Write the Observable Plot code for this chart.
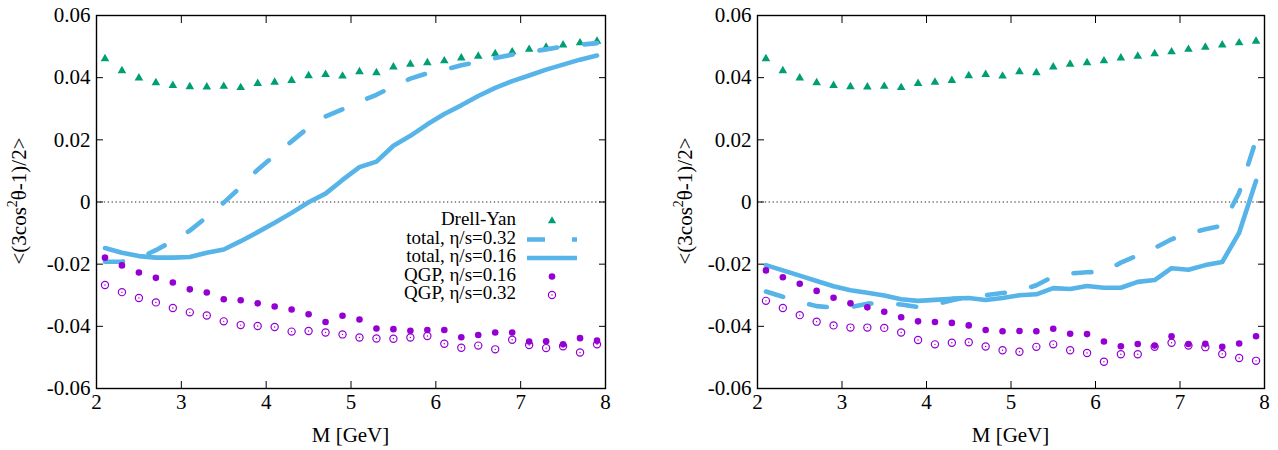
<!DOCTYPE html>
<html><head><meta charset="utf-8">
<script src="https://cdn.jsdelivr.net/npm/d3@7"></script>
<script src="https://cdn.jsdelivr.net/npm/@observablehq/plot@0.6"></script>
<style>
body{margin:0;background:#fff;}
#wrap{display:flex;width:1278px;height:450px;}
svg{display:block;}
svg text{font-family:"Liberation Serif","Times New Roman",serif !important;}
</style></head><body><div id="wrap"></div>
<script>
const M = [2.1,2.3,2.5,2.7,2.9,3.1,3.3,3.5,3.7,3.9,4.1,4.3,4.5,4.7,4.9,5.1,5.3,5.5,5.7,5.9,6.1,6.3,6.5,6.7,6.9,7.1,7.3,7.5,7.7,7.9];
const drellYan = [0.0461,0.0422,0.0399,0.0384,0.0375,0.0371,0.0370,0.0372,0.0368,0.0381,0.0385,0.0391,0.0406,0.0410,0.0405,0.0419,0.0416,0.0434,0.0443,0.0448,0.0454,0.0463,0.0469,0.0477,0.0483,0.0491,0.0498,0.0505,0.0512,0.0517];
const leftTotal016 = [-0.0148,-0.0163,-0.0174,-0.0179,-0.0179,-0.0177,-0.0163,-0.0153,-0.0126,-0.0097,-0.0067,-0.0035,-0.0001,0.0027,0.0071,0.0112,0.0130,0.0181,0.0213,0.0250,0.0283,0.0311,0.0341,0.0367,0.0389,0.0407,0.0426,0.0442,0.0458,0.0471];
const leftTotal032 = [-0.0192,-0.0192,-0.0180,-0.0155,-0.0125,-0.0092,-0.0048,-0.0002,0.0048,0.0104,0.0150,0.0195,0.0240,0.0275,0.0298,0.0322,0.0345,0.0372,0.0397,0.0414,0.0425,0.0440,0.0451,0.0463,0.0474,0.0483,0.0491,0.0500,0.0506,0.0511];
const leftQGP016 = [-0.0179,-0.0204,-0.0227,-0.0244,-0.0259,-0.0281,-0.0291,-0.0313,-0.0316,-0.0326,-0.0336,-0.0346,-0.0361,-0.0386,-0.0366,-0.0378,-0.0407,-0.0409,-0.0414,-0.0412,-0.0412,-0.0435,-0.0428,-0.0420,-0.0420,-0.0449,-0.0448,-0.0458,-0.0438,-0.0446];
const leftQGP032 = [-0.0267,-0.0290,-0.0309,-0.0323,-0.0341,-0.0355,-0.0365,-0.0384,-0.0396,-0.0399,-0.0402,-0.0417,-0.0415,-0.0420,-0.0426,-0.0436,-0.0439,-0.0440,-0.0436,-0.0431,-0.0456,-0.0469,-0.0462,-0.0474,-0.0443,-0.0460,-0.0470,-0.0464,-0.0484,-0.0458];
const rightTotal016 = [-0.0203,-0.0220,-0.0237,-0.0254,-0.0271,-0.0284,-0.0292,-0.0301,-0.0313,-0.0318,-0.0315,-0.0311,-0.0309,-0.0315,-0.0309,-0.0300,-0.0297,-0.0277,-0.0280,-0.0270,-0.0276,-0.0276,-0.0257,-0.0251,-0.0213,-0.0218,-0.0203,-0.0193,-0.0099,0.0068];
const rightTotal032 = [-0.0288,-0.0305,-0.0322,-0.0335,-0.0340,-0.0338,-0.0327,-0.0325,-0.0330,-0.0338,-0.0330,-0.0316,-0.0305,-0.0300,-0.0293,-0.0285,-0.0268,-0.0240,-0.0230,-0.0226,-0.0225,-0.0195,-0.0172,-0.0148,-0.0120,-0.0100,-0.0088,-0.0076,0.0030,0.0200];
const rightQGP016 = [-0.0220,-0.0242,-0.0263,-0.0286,-0.0308,-0.0326,-0.0339,-0.0353,-0.0371,-0.0384,-0.0386,-0.0389,-0.0397,-0.0412,-0.0416,-0.0415,-0.0416,-0.0408,-0.0424,-0.0425,-0.0449,-0.0464,-0.0457,-0.0462,-0.0432,-0.0457,-0.0456,-0.0466,-0.0455,-0.0432];
const rightQGP032 = [-0.0318,-0.0341,-0.0364,-0.0385,-0.0397,-0.0404,-0.0404,-0.0405,-0.0420,-0.0444,-0.0458,-0.0453,-0.0451,-0.0465,-0.0477,-0.0482,-0.0466,-0.0458,-0.0477,-0.0486,-0.0514,-0.0490,-0.0490,-0.0466,-0.0453,-0.0462,-0.0467,-0.0489,-0.0502,-0.0511];
const xTicks = [2,3,4,5,6,7,8];
const yTicks = [-0.06,-0.04,-0.02,0,0.02,0.04,0.06];
const legendLabels = ["Drell-Yan","total, η/s=0.32","total, η/s=0.16","QGP, η/s=0.16","QGP, η/s=0.32"];

const GREEN = "#009e73", BLUE = "#56b4e9", PURPLE = "#9400d3";
const FONT = "Liberation Serif, serif";
const fmtY = d => d === 0 ? "0" : d.toFixed(2);

function rows(vals){ return M.map((m,i)=>({M:m, v:vals[i]})); }

function makePanel(cfg){
  const svg = Plot.plot({
    width: 639, height: 450,
    marginTop: 15, marginBottom: 62, marginLeft: cfg.ml, marginRight: cfg.mr,
    style: {fontFamily: FONT, fontSize: "21px", color: "#000", background: "#fff"},
    x: {domain: [2, 8]},
    y: {domain: [-0.06, 0.06]},
    marks: [
      Plot.ruleY([0], {stroke: "#222", strokeWidth: 1, strokeDasharray: "1.3,2.6"}),
      Plot.dot(rows(drellYan), {x: "M", y: "v", symbol: "triangle", r: 3.2, fill: GREEN}),
      Plot.line(rows(cfg.t032), {x: "M", y: "v", stroke: BLUE, strokeWidth: 4.6, strokeDasharray: "18,27"}),
      Plot.line(rows(cfg.t016), {x: "M", y: "v", stroke: BLUE, strokeWidth: 4.6}),
      Plot.dot(rows(cfg.q016), {x: "M", y: "v", r: 3.3, fill: PURPLE}),
      Plot.dot(rows(cfg.q032), {x: "M", y: "v", r: 3.6, stroke: PURPLE, fill: "none", strokeWidth: 1.2}),
      Plot.dot(rows(cfg.q032), {x: "M", y: "v", r: 0.7, fill: PURPLE}),
      Plot.frame({stroke: "#000", strokeWidth: 1.4}),
      Plot.axisX(xTicks, {anchor: "bottom", tickSize: -7, tickPadding: 13, tickFormat: d => String(d), label: null, fontSize: 21}),
      Plot.axisX(xTicks, {anchor: "top", tickSize: -7, tickFormat: () => "", label: null}),
      Plot.axisY(yTicks, {anchor: "left", tickSize: -7, tickPadding: 13, tickFormat: fmtY, label: null, fontSize: 21}),
      Plot.axisY(yTicks, {anchor: "right", tickSize: -7, tickFormat: () => "", label: null})
    ]
  });
  const s = d3.select(svg);
  s.append("text").attr("x", cfg.ml + (639 - cfg.ml - cfg.mr)/2).attr("y", 437)
    .attr("text-anchor", "middle").attr("dominant-baseline", "middle")
    .attr("font-size", 21).attr("fill", "#000").text("M [GeV]");
  const yt = s.append("text").attr("transform", `translate(${cfg.ytx},201) rotate(-90)`)
    .attr("text-anchor", "middle").attr("dominant-baseline", "middle")
    .attr("font-size", 21).attr("fill", "#000");
  yt.append("tspan").text("<(3cos");
  yt.append("tspan").attr("dy", -7).attr("font-size", 14).text("2");
  yt.append("tspan").attr("dy", 7).text("θ-1)/2>");
  if (cfg.legend) {
    const g = s.append("g").attr("font-size", 19);
    const ys = [221, 239.5, 258, 276.5, 295];
    const tx = 516, sx = 552, l0 = 527, l1 = 577;
    legendLabels.forEach((lab, i) => {
      g.append("text").attr("x", tx).attr("y", ys[i]).attr("text-anchor", "end")
        .attr("dominant-baseline", "middle").attr("fill", "#000").text(lab);
    });
    g.append("path").attr("d", d3.symbol(d3.symbolTriangle, 3.2*3.2*Math.PI*0.9)()).attr("transform", `translate(${sx},${ys[0]})`).attr("fill", GREEN);
    g.append("line").attr("x1", l0).attr("x2", l1).attr("y1", ys[1]).attr("y2", ys[1]).attr("stroke", BLUE).attr("stroke-width", 4.6).attr("stroke-dasharray", "18,27");
    g.append("line").attr("x1", l0).attr("x2", l1).attr("y1", ys[2]).attr("y2", ys[2]).attr("stroke", BLUE).attr("stroke-width", 4.6);
    g.append("circle").attr("cx", sx).attr("cy", ys[3]).attr("r", 3.3).attr("fill", PURPLE);
    g.append("circle").attr("cx", sx).attr("cy", ys[4]).attr("r", 3.6).attr("fill", "none").attr("stroke", PURPLE).attr("stroke-width", 1.2);
    g.append("circle").attr("cx", sx).attr("cy", ys[4]).attr("r", 0.7).attr("fill", PURPLE);
  }
  return svg;
}

const wrap = document.getElementById("wrap");
wrap.appendChild(makePanel({ml: 96, mr: 34, ytx: 21, t016: leftTotal016, t032: leftTotal032, q016: leftQGP016, q032: leftQGP032, legend: true}));
wrap.appendChild(makePanel({ml: 118, mr: 14, ytx: 48, t016: rightTotal016, t032: rightTotal032, q016: rightQGP016, q032: rightQGP032, legend: false}));
</script>
</body></html>
